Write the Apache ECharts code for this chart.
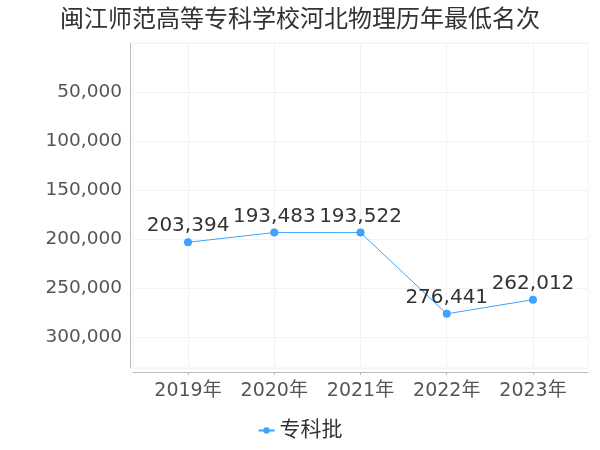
<!DOCTYPE html>
<html>
<head>
<meta charset="utf-8">
<script src="https://cdn.jsdelivr.net/npm/echarts@6/dist/echarts.min.js"></script>
<style>html,body{margin:0;padding:0;background:#fff}#c{width:600px;height:450px}</style>
</head>
<body>
<div id="c"></div>
<script>
var titleText = '闽江师范高等专科学校河北物理历年最低名次';
var categories = ['2019年', '2020年', '2021年', '2022年', '2023年'];
var seriesName = '专科批';
var values = [203394, 193483, 193522, 276441, 262012];

var font = 'DejaVu Sans, Noto Sans CJK SC, sans-serif';
var idx = categories.map(function (_, i) { return i; });
var chart = echarts.init(document.getElementById('c'));
chart.setOption({
  animation: false,
  textStyle: { fontFamily: font },
  title: {
    text: titleText, left: 'center', top: 4,
    textStyle: { fontSize: 24, fontWeight: 'normal', color: '#333', fontFamily: font }
  },
  legend: {
    data: [seriesName], bottom: 4, left: 'center',
    itemWidth: 16, itemHeight: 8,
    textStyle: { fontSize: 21, color: '#333', fontFamily: font }
  },
  grid: {
    left: 133, right: 12, top: 43, bottom: 82,
    show: true, borderColor: '#f3f3f3', borderWidth: 1
  },
  xAxis: {
    type: 'value', position: 'bottom',
    min: -0.638, max: 4.638,
    offset: 4,
    axisLine: { show: true, onZero: false, lineStyle: { color: '#bbb' } },
    axisTick: { show: true, length: 3, customValues: idx, lineStyle: { color: '#bbb' } },
    axisLabel: {
      customValues: idx, margin: 10, fontSize: 19, color: '#555', fontFamily: font,
      formatter: function (v) { return categories[Math.round(v)]; }
    },
    splitLine: { show: true, lineStyle: { color: '#f3f3f3' } }
  },
  yAxis: {
    type: 'value', inverse: true, min: 0, position: 'left',
    max: function (e) { return e.max * 1.2; },
    interval: 50000,
    offset: 3,
    axisLine: { show: true, onZero: false, lineStyle: { color: '#bbb' } },
    axisTick: { show: false },
    axisLabel: {
      showMinLabel: false, showMaxLabel: false, margin: 8,
      fontSize: 18.5, color: '#555', fontFamily: font,
      formatter: function (v) { return v === 0 ? '' : v.toLocaleString('en-US'); }
    },
    splitLine: { show: true, lineStyle: { color: '#f3f3f3' } }
  },
  series: [{
    name: seriesName, type: 'line',
    data: values.map(function (v, i) { return [i, v]; }),
    symbol: 'circle', symbolSize: 8,
    itemStyle: { color: '#3fa2ff' },
    lineStyle: { width: 1, color: '#3fa2ff' },
    label: {
      show: true, position: 'top', distance: 2, fontSize: 20, color: '#333', fontFamily: font,
      formatter: function (p) { return p.value[1].toLocaleString('en-US'); }
    }
  }]
});
</script>
</body>
</html>
